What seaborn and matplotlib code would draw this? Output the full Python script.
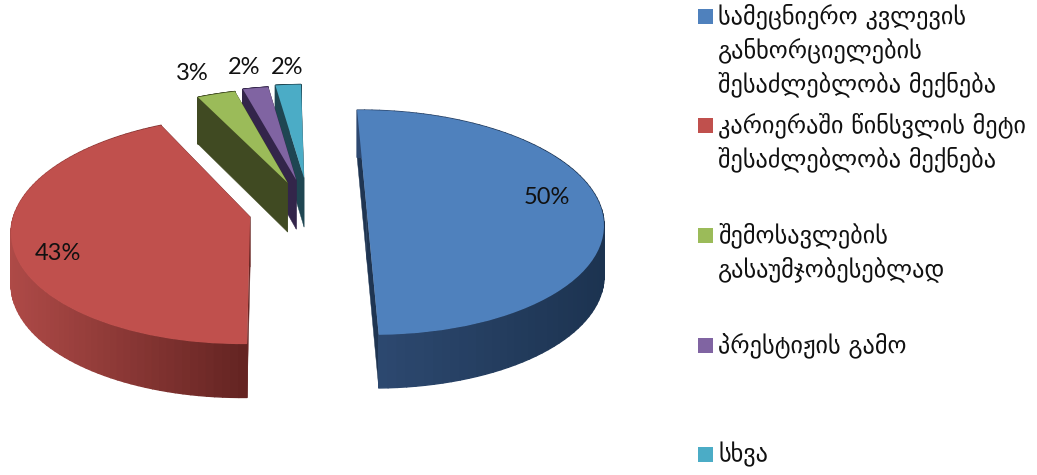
import numpy as np
import matplotlib
matplotlib.use("Agg")
import matplotlib.pyplot as plt
from matplotlib.collections import PolyCollection
from matplotlib.colors import to_rgb
from matplotlib.patches import Rectangle
from matplotlib.transforms import Transform
import seaborn as sns

# --- data ---
shares = [50, 43, 3, 2, 2]
labels = [
    "სამეცნიერო კვლევის\nგანხორციელების\nშესაძლებლობა მექნება",
    "კარიერაში წინსვლის მეტი\nშესაძლებლობა მექნება",
    "შემოსავლების\nგასაუმჯობესებლად",
    "პრესტიჟის გამო",
    "სხვა",
]
colors = ["#4F81BD", "#C0504D", "#9BBB59", "#8064A2", "#4BACC6"]
wall_colors = ["#1F3552", "#6A2725", "#404A22", "#33254A", "#1F4652"]
rim_left = ["#2E4A72", "#AE4A47", "#404A22", "#33254A", "#1F4652"]
rim_right = ["#1C3350", "#622321", "#404A22", "#33254A", "#1F4652"]
explode = [0.2435, 0.258, 0.27, 0.285, 0.30]
start_angle = 91
draw_rank = [3, 4, 2, 1, 0]

# --- layout ---
CX, CY, RX, RY, K, DEPTH, K_DEPTH = 309.5, 210.0, 235.0, 111.0, 0.115, 50.0, 0.06
pct_pos = [(547, 197), (58, 254), (192, 73), (244, 68), (287, 68)]
legend_y = [9, 118, 228, 338, 447]
LINE_H = 34

sns.set_theme(style="white")
plt.rcParams["font.family"] = ["DejaVu Sans"]


def project(u, v, z=0.0):
    d = 1 + K * v
    return CX + RX * u / d, CY - RY * v / d + DEPTH * z / (1 + K_DEPTH * v)


class Tilt(Transform):
    input_dims = output_dims = 2

    def transform_non_affine(self, values):
        x, y = project(values[:, 0], values[:, 1])
        return np.column_stack([x, y])


fig = plt.figure(figsize=(10.37, 4.75), dpi=100, facecolor="white")
ax = fig.add_axes([0, 0, 1, 1])
wedges, _, autotexts = ax.pie(
    shares, explode=explode, colors=sns.color_palette(colors), startangle=start_angle,
    counterclock=False, autopct="%1.0f%%", wedgeprops=dict(linewidth=0),
)
ax.set_aspect("auto")
ax.set_xlim(0, 1037)
ax.set_ylim(475, 0)
ax.axis("off")

tilt = Tilt() + ax.transData
for i, w in enumerate(wedges):
    rank = draw_rank[i]
    w.set_transform(tilt)
    w.set_zorder(2 * rank + 3)
    (cu, cv), r = w.center, w.r
    t = np.radians(np.linspace(w.theta1, w.theta2, 90))
    us, vs = cu + r * np.cos(t), cv + r * np.sin(t)
    top = np.column_stack(project(us, vs, 0.0))
    bot = np.column_stack(project(us, vs, 1.0))
    apex_t = np.array(project(cu, cv, 0.0))
    apex_b = np.array(project(cu, cv, 1.0))
    # radial walls
    ends = [(top[0], bot[0]), (top[-1], bot[-1])]
    polys = [[apex_t, a, b, apex_b] for a, b in ends]
    ax.add_collection(PolyCollection(polys, facecolors=wall_colors[i], edgecolors=wall_colors[i],
                                     linewidths=0.3, zorder=2 * rank + 2))
    # curved rim, shaded across its width
    quads = [[top[j], top[j + 1], bot[j + 1], bot[j]] for j in range(len(t) - 1)]
    f = (top[:-1, 0] - top[:, 0].min()) / max(np.ptp(top[:, 0]), 1)
    c0, c1 = np.array(to_rgb(rim_left[i])), np.array(to_rgb(rim_right[i]))
    shades = [tuple(c0 + (c1 - c0) * x) for x in f]
    ax.add_collection(PolyCollection(quads, facecolors=shades, edgecolors=shades,
                                     linewidths=1.0, zorder=2 * rank + 2))

for txt, pos in zip(autotexts, pct_pos):
    txt.set_position(pos)
    txt.set(fontsize=17, family="Lato", color="#111111", ha="center", va="center", zorder=30)

for lab, col, y in zip(labels, colors, legend_y):
    ax.add_patch(Rectangle((698, y), 15, 15, facecolor=col, edgecolor="none"))
    for n, line in enumerate(lab.split("\n")):
        ax.text(718, y + 7 + n * LINE_H, line, fontsize=17.5, color="#111111",
                ha="left", va="center", family=["DejaVu Sans"])

fig.savefig("out.png", dpi=100)
